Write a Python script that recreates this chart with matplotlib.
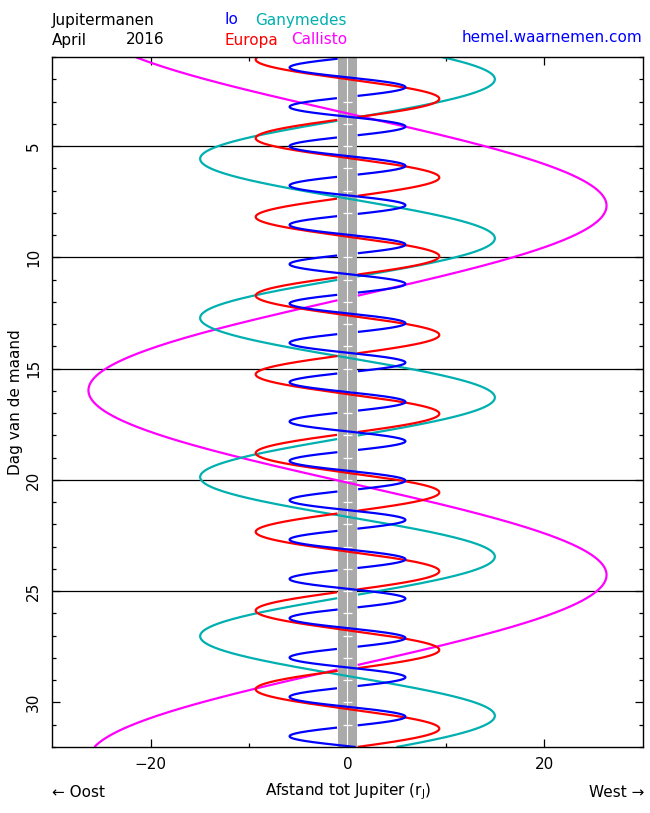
import numpy as np
import matplotlib
matplotlib.use("Agg")
import matplotlib.pyplot as plt
from matplotlib.ticker import FixedLocator

# ---- data ----
moon_names = ["Io", "Europa", "Ganymedes", "Callisto"]
moon_colors = ["#0000ff", "#ff0000", "#00b0b0", "#ff00ff"]
amplitude_rj = [5.88, 9.32, 14.96, 26.3]        # greatest elongation (r_J)
period_days = [1.7675, 3.537, 7.15, 16.59]      # spacing of western elongations (days)
west_elong_day = [2.355, 2.878, 1.998, 7.68]    # a western elongation (day of month)

day_range = [1, 32]
x_range = [-30, 30]
grid_days = [5, 10, 15, 20, 25]
ytick_days = [5, 10, 15, 20, 25, 30]
minor_days = list(range(1, 33))
xtick_major = [-20, 0, 20]
xtick_minor = [-10, 10]
jupiter_radius = 1.0

W, H = 650, 813
fig = plt.figure(figsize=(W / 100, H / 100), dpi=100)
ax = fig.add_axes([52 / W, 1 - 747 / H, (643 - 52) / W, (747 - 57) / H])

ax.set_xlim(x_range)
ax.set_ylim(day_range[1], day_range[0])

# grid lines
for d in grid_days:
    ax.axhline(d, color="black", lw=0.9, zorder=1)

# Jupiter band
ax.axvspan(-jupiter_radius, jupiter_radius, color="#aaaaaa", lw=0, zorder=2)
ax.axvline(0, color="white", lw=0.8, zorder=3)
ax.hlines(minor_days, -0.45, 0.45, colors="white", lw=0.9, zorder=3)

# moon curves (hidden while passing behind Jupiter)
t = np.linspace(day_range[0], day_range[1], 8000)
order = [3, 2, 1, 0]
for i in order:
    ph = 2 * np.pi * (t - west_elong_day[i]) / period_days[i]
    x = amplitude_rj[i] * np.cos(ph)
    moving_east = -np.sin(ph) < 0
    hidden = (np.abs(x) < jupiter_radius) & moving_east
    x = np.where(hidden, np.nan, x)
    ax.plot(x, t, color=moon_colors[i], lw=1.6, zorder=4 + (3 - i) * 0.1,
            solid_capstyle="butt")

# ticks
ax.yaxis.set_major_locator(FixedLocator(ytick_days))
ax.yaxis.set_minor_locator(FixedLocator(minor_days))
ax.xaxis.set_major_locator(FixedLocator(xtick_major))
ax.xaxis.set_minor_locator(FixedLocator(xtick_minor))
ax.tick_params(which="both", direction="in", top=True, right=True,
               labelsize=11, width=0.9, colors="black")
ax.tick_params(which="major", length=6)
ax.tick_params(which="minor", length=3)
ax.tick_params(axis="x", which="major", pad=7)
ax.tick_params(axis="y", which="major", pad=8)
for lab in ax.get_yticklabels():
    lab.set_rotation(90)
    lab.set_va("center")
for s in ax.spines.values():
    s.set_linewidth(1.0)
    s.set_zorder(6)

ax.set_ylabel("Dag van de maand", fontsize=11, labelpad=2)

# header texts
def ftxt(x, y, s, **kw):
    fig.text(x / W, 1 - y / H, s, fontsize=11, va="center", **kw)

ftxt(52, 20, "Jupitermanen", ha="left")
ftxt(52, 40, "April", ha="left")
ftxt(126, 40, "2016", ha="left")
ftxt(224, 20, moon_names[0], ha="left", color=moon_colors[0])
ftxt(347, 20, moon_names[2], ha="right", color=moon_colors[2])
ftxt(224, 40, moon_names[1], ha="left", color=moon_colors[1])
ftxt(347, 40, moon_names[3], ha="right", color=moon_colors[3])
ftxt(642, 37, "hemel.waarnemen.com", ha="right", color="#0000ff")

# bottom texts
ftxt(52, 792, "\u2190 Oost", ha="left")
ftxt(348, 792, "Afstand tot Jupiter (r$_\\mathrm{J}$)", ha="center")
ftxt(644, 792, "West \u2192", ha="right")

fig.savefig("out.png", dpi=100)
